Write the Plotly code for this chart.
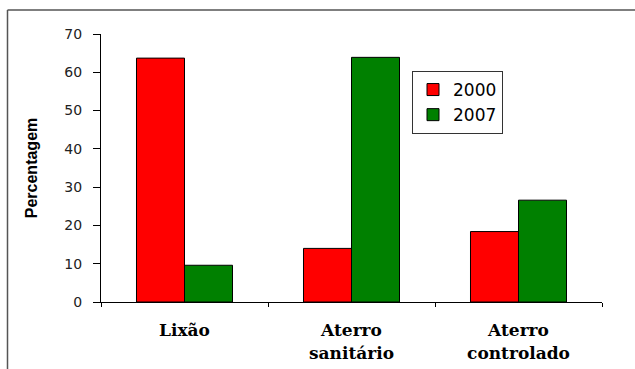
import plotly.graph_objects as go

# Destinação dos resíduos sólidos (%)
categorias = ["<b>Lixão</b>", "<b>Aterro</b><br><b>sanitário</b>", "<b>Aterro</b><br><b>controlado</b>"]
valores_2000 = [63.7, 14.0, 18.4]
valores_2007 = [9.6, 63.9, 26.6]
anos = ["2000", "2007"]
cores = ["#ff0000", "#008000"]

W, H = 635, 369
L, R, T, B = 101, 33, 34, 67

fig = go.Figure()
for nome, vals, cor in zip(anos, [valores_2000, valores_2007], cores):
    fig.add_trace(go.Bar(
        x=categorias, y=vals, name=nome,
        marker=dict(color=cor, line=dict(color="black", width=1)),
    ))

pw, ph = W - L - R, H - T - B


def px(x):
    return (x - L) / pw


def py(y):
    return (H - B - y) / ph


# Moldura externa (lados esquerdo e superior)
fig.add_shape(type="line", xref="paper", yref="paper",
              x0=px(7.5), y0=py(10), x1=px(W + 5), y1=py(10),
              line=dict(color="#555555", width=1.5))
fig.add_shape(type="line", xref="paper", yref="paper",
              x0=px(7.5), y0=py(10), x1=px(7.5), y1=py(H + 5),
              line=dict(color="#555555", width=1.5))

fig.update_layout(
    width=W, height=H,
    margin=dict(l=L, r=R, t=T, b=B, pad=0, autoexpand=False),
    paper_bgcolor="white", plot_bgcolor="white",
    barmode="group", bargap=0.425, bargroupgap=0,
    showlegend=True,
    legend=dict(
        x=px(412), y=py(71), xanchor="left", yanchor="top",
        bordercolor="#333333", borderwidth=1, bgcolor="white",
        font=dict(family="DejaVu Sans, Verdana", size=17, color="black"),
        tracegroupgap=0,
    ),
    xaxis=dict(
        automargin=False,
        showline=True, linecolor="black", linewidth=1,
        ticks="outside", tickson="boundaries", ticklen=4, tickcolor="black",
        ticklabelstandoff=13,
        tickfont=dict(family="DejaVu Serif, Times New Roman", size=17, color="black"),
        showgrid=False,
    ),
    yaxis=dict(
        automargin=False,
        range=[0, 70], dtick=10,
        showline=True, linecolor="black", linewidth=1,
        ticks="outside", ticklen=7, tickcolor="black",
        ticklabelstandoff=8,
        tickfont=dict(family="DejaVu Sans, Verdana", size=14, color="#222222"),
        showgrid=False, zeroline=False,
        title=dict(text="<b>Percentagem</b>", standoff=22,
                   font=dict(family="Liberation Sans, Arial", size=16, color="black")),
    ),
)

fig.write_html("out.html")
